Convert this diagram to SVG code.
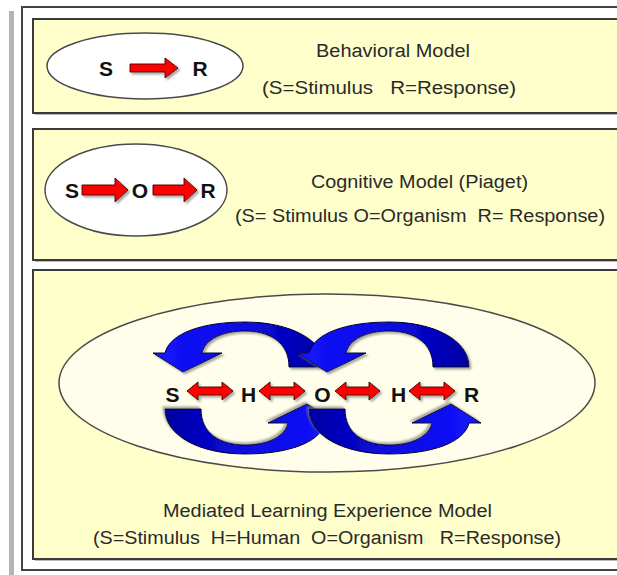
<svg xmlns="http://www.w3.org/2000/svg" xmlns:xlink="http://www.w3.org/1999/xlink" width="617" height="575" viewBox="0 0 617 575">
  <defs>
    <style>
      .panel { fill: #FFFFCC; stroke: #3a3a3a; stroke-width: 2; }
      .pshadow { fill: #b8b8b8; }
      .oval { fill: #ffffff; stroke: #4a4a4a; stroke-width: 1.5; }
      .oval3 { fill: #FFFEEA; stroke: #4a4a4a; stroke-width: 1.5; }
      .title { font-family: "Liberation Sans", Arial, sans-serif; font-size: 18px; fill: #2a2a2a; white-space: pre; }
      .letter { font-family: "Liberation Sans", Arial, sans-serif; font-size: 21px; font-weight: bold; fill: #111; text-anchor: middle; }
      .red { fill: #ff0000; stroke: #5a0000; stroke-width: 1; stroke-linejoin: miter; filter: url(#shadow); }
      .blue { fill: url(#bluegrad); stroke: #000033; stroke-width: 1; filter: url(#shadow); }
    </style>
    <linearGradient id="bluegrad" x1="0" y1="0" x2="1" y2="0">
      <stop offset="0" stop-color="#1414ff"/>
      <stop offset="0.55" stop-color="#0a0ae0"/>
      <stop offset="1" stop-color="#0000a0"/>
    </linearGradient>
    <filter id="shadow" x="-20%" y="-20%" width="150%" height="150%">
      <feDropShadow dx="2" dy="2" stdDeviation="0.8" flood-color="#808080" flood-opacity="0.7"/>
    </filter>
    <path id="arc" d="M 80,-21 C 80,-48 45,-66 0,-66 C -42,-66 -75,-55 -80,-35 L -92,-35 L -62,-16 L -23,-35 L -43,-35 C -40,-49 -22,-57 0,-57 C 24,-57 44,-46 44,-21 Z"/>
  </defs>

  <g id="frame">
    <rect x="9" y="11" width="5" height="570" fill="#b4b4b4"/>
    <rect x="22" y="7" width="640" height="563" fill="#ffffff" stroke="#444444" stroke-width="2"/>
  </g>

  <g id="panel-behavioral">
    <rect class="pshadow" x="35" y="21" width="640" height="94"/>
    <rect class="panel" x="33" y="19" width="640" height="94"/>
    <g id="node-oval1">
      <ellipse class="oval" cx="145" cy="66" rx="98" ry="33"/>
      <text id="b-S" class="letter" x="106" y="76">S</text>
      <text id="b-R" class="letter" x="200" y="76">R</text>
    </g>
    <g id="label-behavioral">
      <text class="title" x="316" y="57" textLength="154" lengthAdjust="spacingAndGlyphs">Behavioral Model</text>
      <text class="title" x="262" y="94" textLength="254" lengthAdjust="spacingAndGlyphs">(S=Stimulus   R=Response)</text>
    </g>
  </g>

  <g id="panel-cognitive">
    <rect class="pshadow" x="35" y="131" width="640" height="131"/>
    <rect class="panel" x="33" y="129" width="640" height="131"/>
    <g id="node-oval2">
      <ellipse class="oval" cx="136" cy="190" rx="91" ry="46"/>
      <text id="c-S" class="letter" x="72" y="198">S</text>
      <text id="c-O" class="letter" x="140" y="198">O</text>
      <text id="c-R" class="letter" x="208" y="198">R</text>
    </g>
    <g id="label-cognitive">
      <text class="title" x="311" y="188" textLength="217" lengthAdjust="spacingAndGlyphs">Cognitive Model (Piaget)</text>
      <text class="title" x="235" y="222" textLength="370" lengthAdjust="spacingAndGlyphs">(S= Stimulus O=Organism  R= Response)</text>
    </g>
  </g>

  <g id="panel-mle">
    <rect class="pshadow" x="35" y="272" width="640" height="289"/>
    <rect class="panel" x="33" y="270" width="640" height="289"/>
    <g id="node-oval3">
      <ellipse class="oval3" cx="327" cy="383" rx="268" ry="89"/>
    </g>
    <g id="loops">
      <use xlink:href="#arc" class="blue" transform="translate(245,388)"/>
      <use xlink:href="#arc" class="blue" transform="translate(245,388) rotate(180)"/>
      <use xlink:href="#arc" class="blue" transform="translate(389,388)"/>
      <use xlink:href="#arc" class="blue" transform="translate(389,388) rotate(180)"/>
    </g>
    <g id="mle-nodes">
      <text id="m-S" class="letter" x="172.5" y="402">S</text>
      <text id="m-H1" class="letter" x="248.5" y="402">H</text>
      <text id="m-O" class="letter" x="322.5" y="402">O</text>
      <text id="m-H2" class="letter" x="398.5" y="402">H</text>
      <text id="m-R" class="letter" x="471.5" y="402">R</text>
    </g>
    <g id="label-mle">
      <text class="title" x="163" y="517" textLength="329" lengthAdjust="spacingAndGlyphs">Mediated Learning Experience Model</text>
      <text class="title" x="93" y="544" textLength="468" lengthAdjust="spacingAndGlyphs">(S=Stimulus  H=Human  O=Organism   R=Response)</text>
    </g>
  </g>

  <g id="connectors">
    <path class="red" d="M130,64 H165 V58 L178,68 L165,78 V72 H130 Z"/>
    <path class="red" d="M82,185 H115 V178 L128,190 L115,202 V195 H82 Z"/>
    <path class="red" d="M153,185 H184 V178 L197,190 L184,202 V195 H153 Z"/>
    <path class="red" d="M187,391 L198,382 V387 H222 V382 L233,391 L222,400 V395 H198 V400 Z"/>
    <path class="red" d="M259,391 L270,382 V387 H294 V382 L305,391 L294,400 V395 H270 V400 Z"/>
    <path class="red" d="M335,391 L346,382 V387 H369 V382 L380,391 L369,400 V395 H346 V400 Z"/>
    <path class="red" d="M409,391 L420,382 V387 H444 V382 L455,391 L444,400 V395 H420 V400 Z"/>
  </g>
</svg>
